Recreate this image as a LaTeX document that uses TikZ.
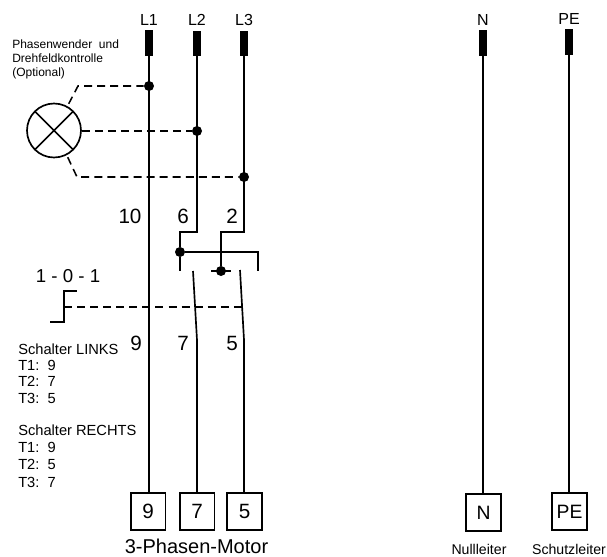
\documentclass[tikz,border=0pt]{standalone}
\usepackage{fontspec}
\setmainfont{Liberation Sans}
\usetikzlibrary{positioning}
\tikzset{
  wire/.style={line width=1.25pt},
  ctrl/.style={line width=1.15pt, dash pattern=on 6pt off 3.8pt},
  fuse/.style={rectangle, fill=black, inner sep=0pt, minimum width=5.5pt, minimum height=19pt},
  dot/.style={circle, fill=black, inner sep=0pt, minimum size=7.5pt},
  terminal/.style={rectangle, draw, line width=1.25pt, inner sep=0pt, minimum width=26pt, minimum height=27.5pt, font=\fontsize{15.5}{18}\selectfont},
  phase/.style={font=\fontsize{12}{14}\selectfont},
  num/.style={font=\fontsize{15.5}{18}\selectfont},
  legend/.style={anchor=west, inner sep=0pt, font=\fontsize{11}{13}\selectfont},
  lamp/.style={circle, draw, line width=1.25pt, inner sep=0pt, minimum size=40.5pt,
    path picture={\draw[line width=1.25pt] (path picture bounding box.south west) -- (path picture bounding box.north east)
      (path picture bounding box.north west) -- (path picture bounding box.south east);}},
}
\begin{document}
\begin{tikzpicture}[x=0.75pt, y=-0.75pt]
  \useasboundingbox (0,0) rectangle (607,557);

  % Fuses and their labels
  \node[fuse] (fl1) at (149,43) {};
  \node[fuse] (fl2) at (197,43.5) {};
  \node[fuse] (fl3) at (244,43.5) {};
  \node[fuse] (fn) at (483,43) {};
  \node[fuse] (fpe) at (569,42) {};
  \node[phase, above=0pt of fl1] (ll1) {L1};
  \node[phase, above=0pt of fl2] (ll2) {L2};
  \node[phase, above=0pt of fl3] (ll3) {L3};
  \node[phase, above=0pt of fn] (ln) {N};
  \node[phase, above=0pt of fpe] (lpe) {PE};

  % Terminals
  \node[terminal] (t9) at (148,511.5) {9};
  \node[terminal] (t7) at (197,511.5) {7};
  \node[terminal] (t5) at (244.5,511.5) {5};
  \node[terminal, font=\fontsize{14.5}{18}\selectfont] (tn) at (483.5,512.5) {N};
  \node[terminal, font=\fontsize{14.5}{18}\selectfont] (tpe) at (569.5,511.5) {PE};
  \node[font=\fontsize{15}{17}\selectfont] (motor) at (196.5,546) {3-Phasen-Motor};
  \node[font=\fontsize{10.6}{12}\selectfont, inner sep=0pt] (nl) at (479,549) {Nullleiter};
  \node[font=\fontsize{10.6}{12}\selectfont, inner sep=0pt] (sl) at (569,549) {Schutzleiter};

  % Phase control lamp
  \node[lamp] (lamp) at (54,130.5) {};
  \node[dot] (d1) at (149,86) {};
  \node[dot] (d2) at (197,131) {};
  \node[dot] (d3) at (244,177) {};
  \coordinate (k1) at (78,86);
  \coordinate (k3) at (77,177);
  \draw[ctrl] (lamp.north east) ++(-5,-7) -- (k1) -- (d1);
  \draw[ctrl] (lamp.east |- d2) -- (d2);
  \draw[ctrl] (lamp.south east) ++(-6,7) -- (k3) -- (d3);

  % Switch
  \coordinate (c2a) at (197,232);
  \coordinate (c2b) at (180,232);
  \node[dot] (s2) at (180,252) {};
  \coordinate (e2) at (180,271);
  \coordinate (c3a) at (244,232);
  \coordinate (c3b) at (221,232);
  \node[dot] (s3) at (221,271) {};
  \coordinate (b3l) at (211,271);
  \coordinate (b3r) at (231,271);
  \coordinate (k4) at (258,252);
  \coordinate (e4) at (258,271);
  \coordinate (a7) at (193,271);
  \coordinate (z7) at (197,340);
  \coordinate (a5) at (240,270);
  \coordinate (z5) at (244,340);

  \draw[wire] (fl1.south) -- (fl1.south |- t9.north);
  \draw[wire] (fl2.south) -- (c2a) -- (c2b) -- (s2) -- (e2);
  \draw[wire] (fl3.south) -- (c3a) -- (c3b) -- (s3);
  \draw[wire] (s2) -- (k4) -- (e4);
  \draw[wire] (b3l) -- (b3r);
  \draw[wire] (a7) -- (z7);
  \draw[wire] (a5) -- (z5);
  \draw[wire] (z7) -- (t7.north);
  \draw[wire] (z5) -- (z5 |- t5.north);
  \draw[wire] (fn.south) -- (fn.south |- tn.north);
  \draw[wire] (fpe.south) -- (fpe.south |- tpe.north);

  % Actuator
  \coordinate (h1) at (50,322);
  \coordinate (h2) at (64,322);
  \coordinate (h3) at (64,291);
  \coordinate (h4) at (77,291);
  \coordinate (h5) at (64,307);
  \coordinate (h6) at (243,307);
  \draw[wire] (h1) -- (h2) -- (h3) -- (h4);
  \draw[ctrl] (h5) -- (h6);
  \node[font=\fontsize{14}{17}\selectfont] (pos) at (68,276) {1 - 0 - 1};

  % Contact numbers
  \node[num] (n10) at (130,216) {10};
  \node[num] (n6) at (183,216) {6};
  \node[num] (n2) at (232,216) {2};
  \node[num] (n9) at (136,343) {9};
  \node[num] (n7) at (183,343) {7};
  \node[num] (n5) at (232,343) {5};

  % Legends
  \node[anchor=west, align=left, inner sep=0pt, font=\fontsize{9}{10.5}\selectfont] (opt) at (12,59) {Phasenwender\ \ und\\Drehfeldkontrolle\\(Optional)};
  \node[legend] (links) at (18,349) {Schalter LINKS};
  \node[legend] (la) at (18,365.5) {T1:\ \ 9};
  \node[legend] (lb) at (18,381.5) {T2:\ \ 7};
  \node[legend] (lc) at (18,398) {T3:\ \ 5};
  \node[legend] (rechts) at (18,430) {Schalter RECHTS};
  \node[legend] (ra) at (18,447) {T1:\ \ 9};
  \node[legend] (rb) at (18,464) {T2:\ \ 5};
  \node[legend] (rc) at (18,482) {T3:\ \ 7};
\end{tikzpicture}
\end{document}
